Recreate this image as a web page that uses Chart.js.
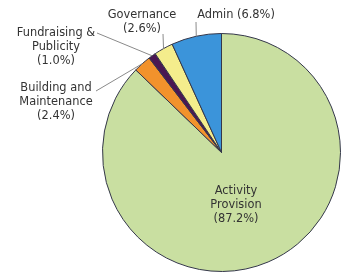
<!DOCTYPE html>
<html>
<head>
<meta charset="utf-8">
<script src="https://cdn.jsdelivr.net/npm/chart.js@4"></script>
<style>
  html, body { margin: 0; padding: 0; background: #fff; }
  #wrap { width: 347px; height: 272px; position: relative; }
</style>
</head>
<body>
<div id="wrap"><canvas id="pie"></canvas></div>
<script>
// ── DATA ──
const categories = ['Activity Provision', 'Building and Maintenance', 'Fundraising & Publicity', 'Governance', 'Admin'];
const shares     = [87.2, 2.4, 1.0, 2.6, 6.8];
// label text broken into lines as printed on the chart
const labelLines = [['Activity', 'Provision'], ['Building and', 'Maintenance'], ['Fundraising &', 'Publicity'], ['Governance'], []];
const inlinePct  = [false, false, false, false, true];
const sliceColors = ['#c9dfa1', '#f2922c', '#4a1752', '#f4ed8c', '#3b94da'];

// ── LABEL LAYOUT (text anchor, leader start) ──
const labelPos = [
  { x: 236, y: 191, lead: null },
  { x: 56,  y: 88,  lead: [96, 91] },
  { x: 56,  y: 33,  lead: [97, 33] },
  { x: 142, y: 15,  lead: [163, 34] },
  { x: 236, y: 15,  lead: [196, 22] }
];

const pieLabels = {
  id: 'pieLabels',
  afterDraw(chart) {
    const c = chart.ctx;
    const arcs = chart.getDatasetMeta(0).data;
    c.save();
    c.font = '11.4px "DejaVu Sans", Verdana, sans-serif';
    c.fillStyle = '#333';
    c.textAlign = 'center';
    c.textBaseline = 'middle';
    arcs.forEach((arc, i) => {
      const p = labelPos[i];
      const pct = '(' + shares[i].toFixed(1) + '%)';
      const lines = inlinePct[i] ? [categories[i] + ' ' + pct] : labelLines[i].concat([pct]);
      lines.forEach((t, k) => c.fillText(t, p.x, p.y + k * 14));
      if (p.lead) {
        const mid = (arc.startAngle + arc.endAngle) / 2;
        const ex = arc.x + Math.cos(mid) * arc.outerRadius;
        const ey = arc.y + Math.sin(mid) * arc.outerRadius;
        c.strokeStyle = '#8a8a8a';
        c.lineWidth = 1;
        c.beginPath();
        c.moveTo(p.lead[0], p.lead[1]);
        c.lineTo(ex, ey);
        c.stroke();
      }
    });
    c.restore();
  }
};

new Chart(document.getElementById('pie'), {
  type: 'pie',
  data: {
    labels: categories,
    datasets: [{
      data: shares,
      backgroundColor: sliceColors,
      borderColor: '#34374a',
      borderWidth: 1
    }]
  },
  options: {
    responsive: true,
    maintainAspectRatio: false,
    animation: false,
    layout: { padding: { left: 102, right: 6, top: 33, bottom: 0 } },
    plugins: {
      legend: { display: false },
      tooltip: { enabled: false }
    }
  },
  plugins: [pieLabels]
});
</script>
</body>
</html>
